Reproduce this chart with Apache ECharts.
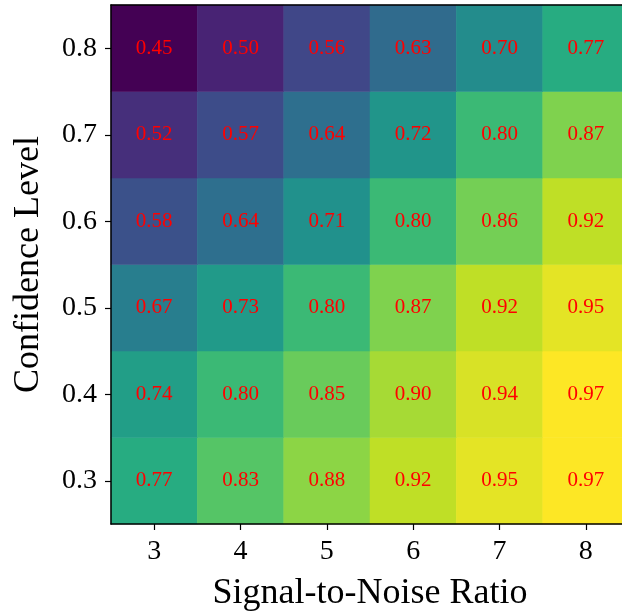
<!DOCTYPE html>
<html><head><meta charset="utf-8">
<script src="https://cdn.jsdelivr.net/npm/echarts@6/dist/echarts.min.js"></script>
<style>html,body{margin:0;padding:0;background:#fff}#c{width:622px;height:612px}</style>
</head><body><div id="c"></div>
<script>
const xCats = ['3','4','5','6','7','8'];
const yCats = ['0.3','0.4','0.5','0.6','0.7','0.8'];
const row08 = [0.45,0.50,0.56,0.63,0.70,0.77];
const row07 = [0.52,0.57,0.64,0.72,0.80,0.87];
const row06 = [0.58,0.64,0.71,0.80,0.86,0.92];
const row05 = [0.67,0.73,0.80,0.87,0.92,0.95];
const row04 = [0.74,0.80,0.85,0.90,0.94,0.97];
const row03 = [0.77,0.83,0.88,0.92,0.95,0.97];
const rows = [row03,row04,row05,row06,row07,row08];
const viridis = ['#440154','#482475','#414487','#355f8d','#2a788e','#21918c','#22a884','#44bf70','#7ad151','#bddf26','#fde725'];
const data = [];
rows.forEach((r,yi)=>r.forEach((v,xi)=>data.push([xi,yi,v])));
const FONT = 'Liberation Serif';
const chart = echarts.init(document.getElementById('c'));
chart.setOption({
  animation:false,
  grid:{left:111,top:5,right:-7,bottom:88,outerBoundsMode:'none',containLabel:false},
  xAxis:[{type:'category',data:xCats,position:'bottom',
    axisLine:{show:true,lineStyle:{color:'#000',width:1.5}},
    axisTick:{show:true,alignWithLabel:true,length:6,lineStyle:{color:'#000',width:1.2}},
    axisLabel:{color:'#000',fontFamily:FONT,fontSize:28,margin:14},
    name:'Signal-to-Noise Ratio',nameLocation:'middle',nameGap:52,
    nameTextStyle:{color:'#000',fontFamily:FONT,fontSize:36},
    splitArea:{show:false},z:10},
   {type:'category',data:xCats,position:'top',
    axisLine:{show:true,lineStyle:{color:'#000',width:1.5}},
    axisTick:{show:false},axisLabel:{show:false},z:10}],
  yAxis:{type:'category',data:yCats,
    axisLine:{show:true,lineStyle:{color:'#000',width:1.5}},
    axisTick:{show:true,alignWithLabel:true,length:6,lineStyle:{color:'#000',width:1.2}},
    axisLabel:{color:'#000',fontFamily:FONT,fontSize:28,margin:14},
    name:'Confidence Level',nameLocation:'middle',nameGap:64,
    nameTextStyle:{color:'#000',fontFamily:FONT,fontSize:36},z:10},
  visualMap:{show:false,min:0.45,max:0.97,dimension:2,inRange:{color:viridis}},
  series:[{type:'heatmap',data:data,
    label:{show:true,color:'#ff0000',fontFamily:FONT,fontSize:21,
      formatter:p=>p.value[2].toFixed(2)},
    itemStyle:{borderWidth:0}}]
});
</script></body></html>
